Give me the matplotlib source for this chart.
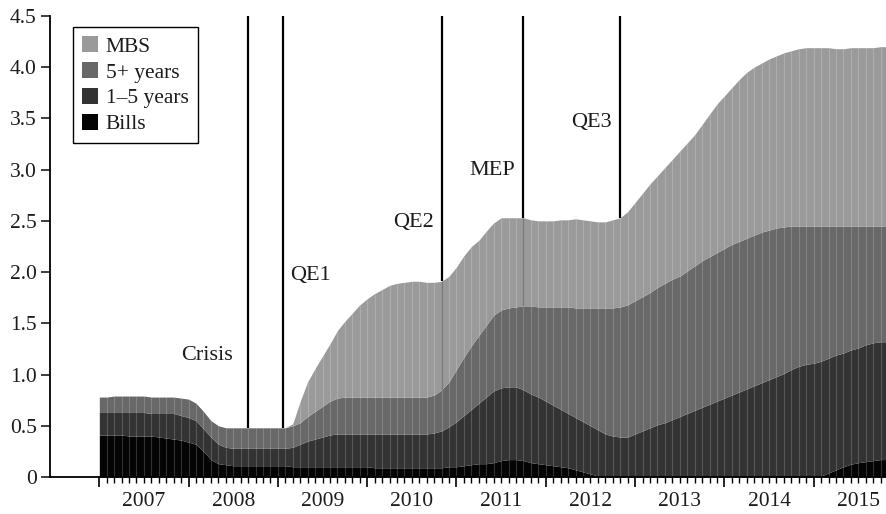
"""Fed balance sheet composition, stacked area with policy event markers."""
import numpy as np
import matplotlib.pyplot as plt
from matplotlib.patches import Patch

plt.rcParams["font.family"] = ["Liberation Serif", "DejaVu Serif"]

# cumulative levels (trillions $), one value per month boundary, Jan 2007 onwards
level_bills = [
    0.41, 0.41, 0.41, 0.41, 0.40, 0.40, 0.40, 0.40, 0.39, 0.38, 0.37, 0.36,
    0.34, 0.32, 0.25, 0.17, 0.13, 0.12, 0.11, 0.11, 0.11, 0.11, 0.11, 0.11,
    0.11, 0.11, 0.10, 0.10, 0.10, 0.10, 0.10, 0.10, 0.10, 0.10, 0.10, 0.10,
    0.10, 0.09, 0.09, 0.09, 0.09, 0.09, 0.09, 0.09, 0.09, 0.09, 0.09, 0.10,
    0.10, 0.11, 0.12, 0.13, 0.13, 0.14, 0.16, 0.17, 0.17, 0.16, 0.14, 0.13,
    0.12, 0.11, 0.10, 0.09, 0.07, 0.05, 0.03, 0.01, 0.00, 0.00, 0.00, 0.00,
    0.00, 0.00, 0.00, 0.00, 0.00, 0.00, 0.00, 0.00, 0.00, 0.00, 0.00, 0.00,
    0.00, 0.00, 0.00, 0.00, 0.00, 0.00, 0.00, 0.00, 0.00, 0.00, 0.00, 0.00,
    0.00, 0.01, 0.04, 0.07, 0.10, 0.125, 0.14, 0.15, 0.16, 0.17, 0.17,
]
level_1to5 = [
    0.63, 0.63, 0.63, 0.63, 0.63, 0.63, 0.63, 0.62, 0.62, 0.62, 0.62, 0.60,
    0.58, 0.55, 0.47, 0.39, 0.32, 0.29, 0.28, 0.28, 0.28, 0.28, 0.28, 0.28,
    0.28, 0.28, 0.29, 0.32, 0.35, 0.37, 0.39, 0.41, 0.42, 0.42, 0.42, 0.42,
    0.42, 0.42, 0.42, 0.42, 0.42, 0.42, 0.42, 0.42, 0.42, 0.43, 0.45, 0.49,
    0.54, 0.60, 0.66, 0.72, 0.78, 0.84, 0.87, 0.88, 0.88, 0.85, 0.81, 0.78,
    0.74, 0.70, 0.66, 0.62, 0.58, 0.54, 0.50, 0.46, 0.42, 0.40, 0.39, 0.39,
    0.42, 0.45, 0.48, 0.51, 0.53, 0.56, 0.59, 0.62, 0.65, 0.68, 0.71, 0.74,
    0.77, 0.80, 0.83, 0.86, 0.89, 0.92, 0.95, 0.98, 1.01, 1.05, 1.08, 1.10,
    1.11, 1.13, 1.16, 1.19, 1.21, 1.24, 1.26, 1.29, 1.31, 1.32, 1.32,
]
level_5plus = [
    0.78, 0.78, 0.79, 0.79, 0.79, 0.79, 0.79, 0.78, 0.78, 0.78, 0.78, 0.77,
    0.76, 0.72, 0.64, 0.55, 0.50, 0.48, 0.48, 0.48, 0.48, 0.48, 0.48, 0.48,
    0.48, 0.48, 0.50, 0.53, 0.59, 0.64, 0.69, 0.74, 0.77, 0.78, 0.78, 0.78,
    0.78, 0.78, 0.78, 0.78, 0.78, 0.78, 0.78, 0.78, 0.78, 0.80, 0.85, 0.93,
    1.05, 1.17, 1.28, 1.38, 1.48, 1.58, 1.63, 1.65, 1.66, 1.67, 1.67, 1.66,
    1.66, 1.66, 1.66, 1.66, 1.65, 1.65, 1.65, 1.65, 1.65, 1.65, 1.66, 1.68,
    1.72, 1.76, 1.80, 1.85, 1.89, 1.93, 1.96, 2.01, 2.06, 2.11, 2.15, 2.19,
    2.23, 2.27, 2.30, 2.33, 2.36, 2.39, 2.41, 2.43, 2.44, 2.45, 2.45, 2.45,
    2.45, 2.45, 2.45, 2.45, 2.45, 2.45, 2.45, 2.45, 2.45, 2.45, 2.45,
]
level_total = [
    0.78, 0.78, 0.79, 0.79, 0.79, 0.79, 0.79, 0.78, 0.78, 0.78, 0.78, 0.77,
    0.76, 0.72, 0.64, 0.55, 0.50, 0.48, 0.48, 0.48, 0.48, 0.48, 0.48, 0.48,
    0.48, 0.48, 0.52, 0.74, 0.93, 1.06, 1.18, 1.30, 1.43, 1.52, 1.60, 1.68,
    1.74, 1.79, 1.83, 1.87, 1.89, 1.90, 1.91, 1.91, 1.90, 1.90, 1.91, 1.96,
    2.05, 2.16, 2.25, 2.31, 2.40, 2.48, 2.53, 2.53, 2.53, 2.53, 2.51, 2.50,
    2.50, 2.50, 2.51, 2.51, 2.52, 2.51, 2.50, 2.49, 2.49, 2.51, 2.53, 2.59,
    2.68, 2.77, 2.86, 2.94, 3.02, 3.10, 3.18, 3.26, 3.34, 3.44, 3.54, 3.64,
    3.72, 3.80, 3.88, 3.95, 4.00, 4.04, 4.08, 4.11, 4.14, 4.16, 4.18, 4.19,
    4.19, 4.19, 4.19, 4.18, 4.18, 4.19, 4.19, 4.19, 4.19, 4.20, 4.20,
]
for s in (level_bills, level_1to5, level_5plus):
    assert len(s) == len(level_total), len(s)

years = list(range(2007, 2016))
events = ["Crisis", "QE1", "QE2", "MEP", "QE3"]
event_month = [20, 24.7, 46, 57, 70]
event_label_y = [1.19, 1.97, 2.48, 2.99, 3.46]

months = np.arange(len(level_total))
bills = np.array(level_bills)
c2 = np.array(level_1to5)
c3 = np.array(level_5plus)
tot = np.array(level_total)

col_mbs, col_long, col_mid, col_bills = "#9a9a9a", "#686868", "#333333", "#040404"
ink = "#1c1c1c"

fig = plt.figure(figsize=(8.87, 5.14), dpi=100)
ax = fig.add_axes([0.0569, 0.072, 0.9425, 0.897])

ax.fill_between(months, 0, bills, color=col_bills, lw=0)
ax.fill_between(months, bills, c2, color=col_mid, lw=0)
ax.fill_between(months, c2, c3, color=col_long, lw=0)
ax.fill_between(months, c3, tot, color=col_mbs, lw=0)
# faint monthly stripes
ax.vlines(months, 0, tot, colors="white", alpha=0.18, lw=0.8)

# event markers
ev_top = np.interp(event_month, months, tot)
ev_c3 = np.interp(event_month, months, c3)
ax.vlines(event_month, ev_top, 4.5, colors="black", lw=1.6, zorder=5)
ax.vlines(event_month[2:4], ev_c3[2:4], ev_top[2:4], colors="#7c7c7c", lw=1.0)
for i, name in enumerate(events):
    if name == "QE1":
        ax.text(event_month[i] + 1.0, event_label_y[i], name, ha="left",
                va="center", fontsize=16, color=ink)
    else:
        gap = 2.0 if name == "Crisis" else 1.1
        ax.text(event_month[i] - gap, event_label_y[i], name, ha="right",
                va="center", fontsize=16, color=ink)

ax.set_xlim(-6.56, 105.78)
ax.set_ylim(0, 4.5)
ax.spines["top"].set_visible(False)
ax.spines["right"].set_visible(False)
ax.spines["left"].set_linewidth(1.3)
ax.spines["bottom"].set_linewidth(1.3)

ax.set_yticks(np.arange(0, 4.51, 0.5))
ax.set_yticklabels(["0"] + [f"{v:.1f}" for v in np.arange(0.5, 4.51, 0.5)])
ax.tick_params(axis="y", length=6.5, width=1.2, pad=3.5, labelsize=15.5,
               colors=ink)

major = [12 * k for k in range(len(years))]
minor = [m for m in range(0, 106) if m % 12 != 0]
ax.set_xticks(major)
ax.set_xticklabels([])
ax.set_xticks(minor, minor=True)
ax.tick_params(axis="x", which="major", length=7.5, width=1.2)
ax.tick_params(axis="x", which="minor", length=4, width=1.0)
for k, yr in enumerate(years):
    ax.text(12 * k + 6, -0.054, str(yr), transform=ax.get_xaxis_transform(),
            ha="center", va="center", fontsize=15.5, color=ink)

handles = [Patch(facecolor=c, edgecolor="none") for c in
           (col_mbs, col_long, col_mid, col_bills)]
leg = ax.legend(handles, ["MBS", "5+ years", "1\u20135 years", "Bills"],
                loc="upper left", bbox_to_anchor=(0.0266, 0.9755),
                borderaxespad=0, fontsize=15.5, frameon=True, fancybox=False,
                edgecolor="black", framealpha=1, handlelength=0.76,
                handleheight=0.76, handletextpad=0.35, labelspacing=0.25,
                borderpad=0.42)
leg.get_frame().set_linewidth(1.0)
for t in leg.get_texts():
    t.set_color(ink)

fig.savefig("out.png", dpi=100)
